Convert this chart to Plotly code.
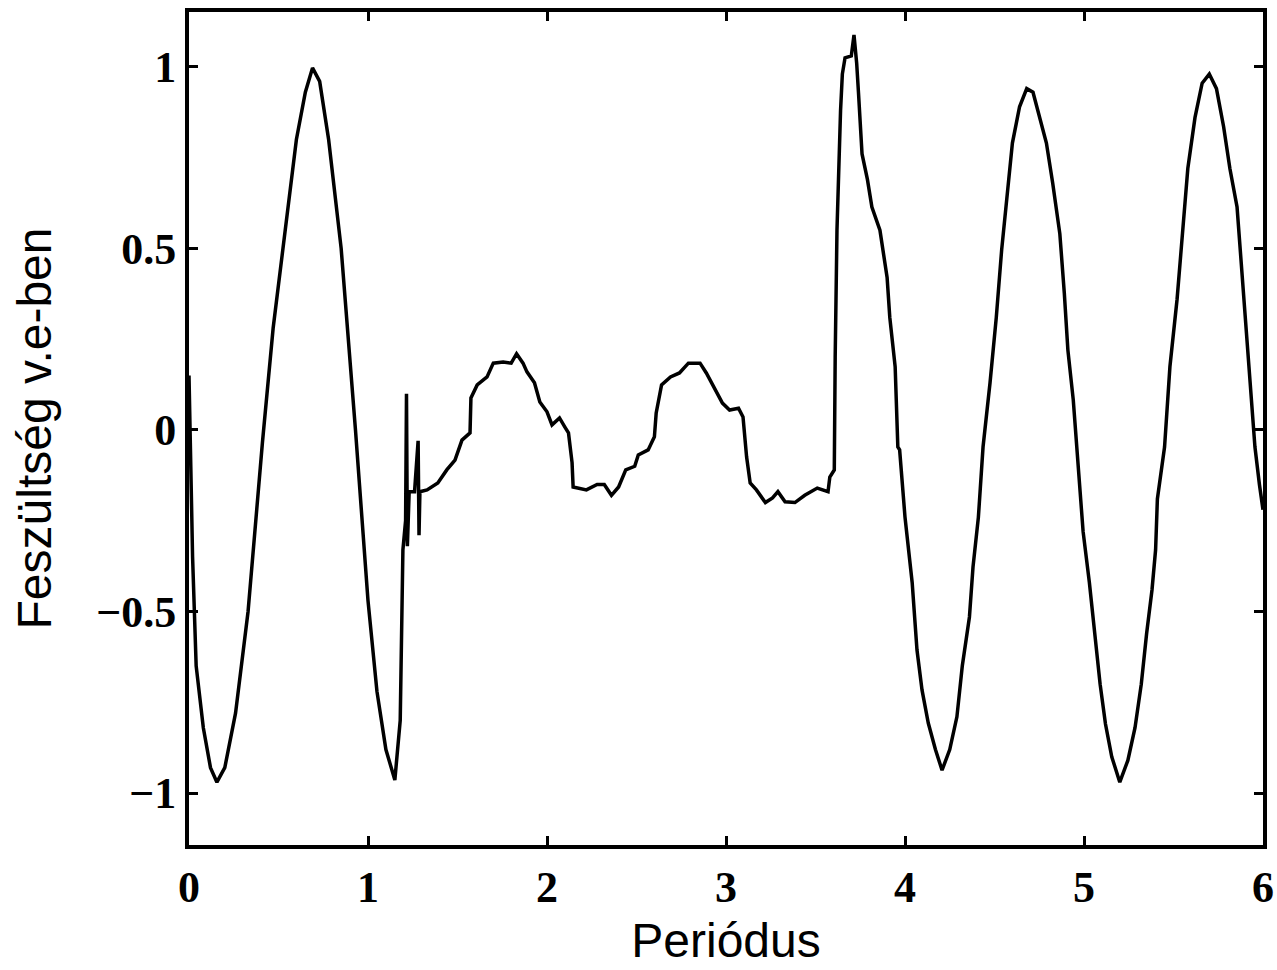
import plotly.graph_objects as go

# Traced signal (x in periods, y in relative units)
x_vals = [0.0, 0.02, 0.04, 0.08, 0.12, 0.156, 0.2, 0.26, 0.33, 0.41, 0.47, 0.525, 0.6, 0.65, 0.69,
          0.73, 0.78, 0.85, 0.93, 1.0, 1.05, 1.1, 1.15, 1.18, 1.195, 1.21,
          1.215, 1.22, 1.23, 1.26, 1.28, 1.285, 1.29,
          1.33, 1.39, 1.44, 1.486, 1.525, 1.57, 1.575, 1.61, 1.665, 1.70, 1.755, 1.80, 1.83, 1.866, 1.888,
          1.93, 1.96, 2.0, 2.028, 2.07, 2.10, 2.12, 2.14, 2.146, 2.22, 2.28, 2.32, 2.36, 2.40, 2.44, 2.49,
          2.51, 2.565, 2.60, 2.61, 2.64, 2.69, 2.74, 2.79, 2.855, 2.89, 2.93, 2.98, 3.02, 3.07, 3.095,
          3.115, 3.135, 3.17, 3.22, 3.26, 3.29, 3.33, 3.385, 3.44, 3.51, 3.57, 3.58, 3.605, 3.61,
          3.615, 3.62, 3.64, 3.65, 3.665, 3.70, 3.715, 3.73, 3.74, 3.76, 3.79, 3.815, 3.86, 3.90, 3.915,
          3.945, 3.96, 3.97, 4.0, 4.04, 4.067, 4.095, 4.13, 4.17, 4.207, 4.25, 4.29, 4.32, 4.36, 4.38,
          4.41, 4.43, 4.436, 4.475, 4.51, 4.54, 4.57, 4.60, 4.64, 4.68, 4.715, 4.75, 4.79, 4.825, 4.865,
          4.89, 4.91, 4.94, 4.96, 4.995, 5.03, 5.06, 5.09, 5.12, 5.155, 5.20, 5.245, 5.285, 5.32, 5.35,
          5.38, 5.40, 5.41, 5.45, 5.48, 5.52, 5.55, 5.58, 5.62, 5.66, 5.70, 5.74, 5.78, 5.815, 5.855,
          5.88, 5.90, 5.92, 5.94, 5.955, 5.98, 6.0]
y_vals = [0.15, -0.35, -0.65, -0.82, -0.93, -0.97, -0.93, -0.78, -0.5, -0.036, 0.28, 0.5, 0.8, 0.93, 0.997,
          0.96, 0.8, 0.5, 0.0, -0.47, -0.72, -0.88, -0.964, -0.8, -0.33, -0.25,
          0.10, -0.32, -0.17, -0.17, -0.03, -0.29, -0.17,
          -0.165, -0.146, -0.11, -0.083, -0.028, -0.008, 0.088, 0.124, 0.146, 0.184, 0.187, 0.184, 0.21, 0.184, 0.16,
          0.13, 0.077, 0.05, 0.014, 0.033, 0.008, -0.008, -0.09, -0.157, -0.165, -0.15, -0.15, -0.18, -0.157, -0.11, -0.10,
          -0.069, -0.055, -0.019, 0.047, 0.124, 0.146, 0.157, 0.184, 0.184, 0.157, 0.118, 0.074, 0.055, 0.06, 0.036,
          -0.074, -0.146, -0.165, -0.20, -0.187, -0.17, -0.198, -0.20, -0.18, -0.16, -0.17, -0.13, -0.11, 0.20,
          0.377, 0.55, 0.88, 0.98, 1.025, 1.03, 1.088, 1.01, 0.93, 0.76, 0.69, 0.614, 0.55, 0.42, 0.31,
          0.174, -0.047, -0.055, -0.24, -0.42, -0.606, -0.716, -0.807, -0.88, -0.937, -0.88, -0.79, -0.65, -0.515, -0.377,
          -0.24, -0.10, -0.047, 0.13, 0.31, 0.496, 0.65, 0.79, 0.89, 0.94, 0.93, 0.86, 0.79, 0.68, 0.54,
          0.377, 0.22, 0.083, -0.047, -0.28, -0.42, -0.56, -0.70, -0.81, -0.90, -0.97, -0.91, -0.82, -0.70, -0.56,
          -0.44, -0.33, -0.19, -0.047, 0.174, 0.36, 0.54, 0.72, 0.86, 0.955, 0.98, 0.94, 0.835, 0.72, 0.614,
          0.45, 0.31, 0.174, 0.036, -0.047, -0.15, -0.22]

x_ticks = [0, 1, 2, 3, 4, 5, 6]
y_ticks = [-1, -0.5, 0, 0.5, 1]
y_tick_text = ["\u22121", "\u22120.5", "0", "0.5", "1"]

fig = go.Figure()
fig.add_trace(go.Scatter(x=x_vals, y=y_vals, mode="lines",
                         line=dict(color="black", width=3.5), showlegend=False))

tickfont = dict(family="Liberation Serif", size=44, color="black", weight="bold")
titlefont = dict(family="Liberation Sans", size=48, color="black")

fig.update_layout(
    width=1277, height=970,
    margin=dict(l=189, r=14, t=12, b=125),
    paper_bgcolor="white", plot_bgcolor="white",
    xaxis=dict(range=[0, 6], tickvals=x_ticks, ticks="inside", ticklen=9, tickwidth=3,
               tickcolor="black", showline=True, linecolor="black", linewidth=4,
               mirror="ticks", showgrid=False, zeroline=False, tickfont=tickfont,
               automargin=False,
               title=dict(text="Periódus", font=titlefont, standoff=14)),
    yaxis=dict(range=[-1.143, 1.151], tickvals=y_ticks, ticktext=y_tick_text, ticks="inside",
               ticklen=9, tickwidth=3, tickcolor="black", showline=True, linecolor="black",
               linewidth=4, mirror="ticks", showgrid=False, zeroline=False, tickfont=tickfont,
               automargin=False,
               title=dict(text="Feszültség v.e-ben", font=titlefont, standoff=30)),
)

fig.write_html("out.html")
